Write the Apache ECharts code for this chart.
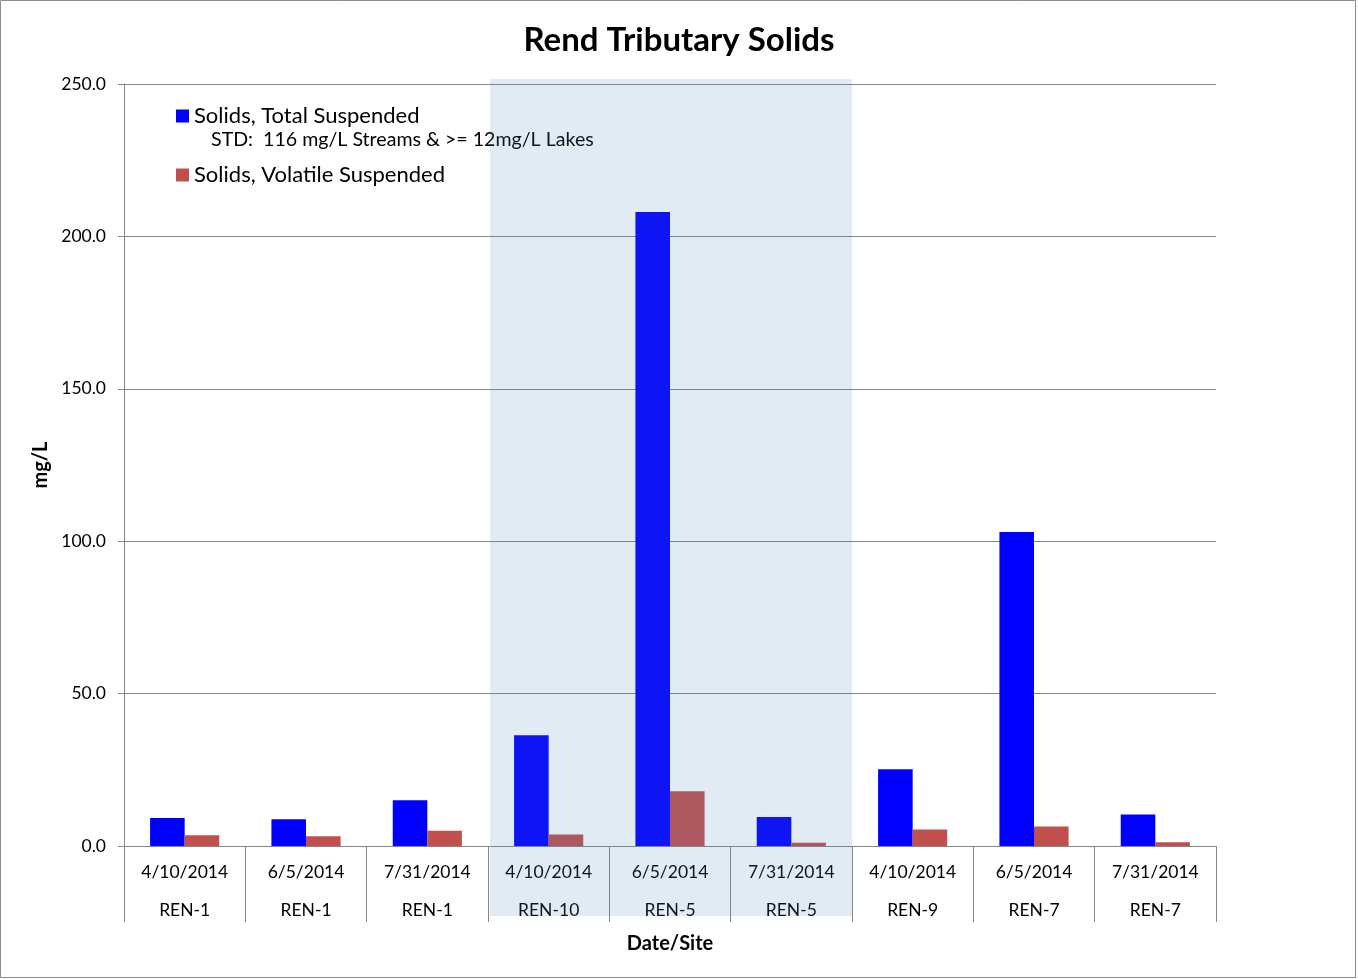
<!DOCTYPE html>
<html>
<head>
<meta charset="utf-8">
<script src="https://cdn.jsdelivr.net/npm/echarts@6/dist/echarts.min.js"></script>
<style>
html,body{margin:0;padding:0;background:#fff;}
#chart{width:1358px;height:979px;}
</style>
</head>
<body>
<div id="chart"></div>
<script>
const dates = ['4/10/2014','6/5/2014','7/31/2014','4/10/2014','6/5/2014','7/31/2014','4/10/2014','6/5/2014','7/31/2014'];
const sites = ['REN-1','REN-1','REN-1','REN-10','REN-5','REN-5','REN-9','REN-7','REN-7'];
const totalSuspended = [9.2, 8.8, 15.0, 36.3, 208.0, 9.5, 25.2, 103.0, 10.3];
const volatileSuspended = [3.5, 3.2, 5.0, 3.8, 18.0, 1.1, 5.4, 6.4, 1.2];
const yTicks = [0, 50, 100, 150, 200, 250];
const shadedFrom = 3, shadedTo = 5;

const categories = dates.map((d, i) => d + '\n' + sites[i]);
const FONT = 'Lato';

const chart = echarts.init(document.getElementById('chart'), null, {renderer: 'canvas'});
const option = {
  backgroundColor: '#fff',
  animation: false,
  textStyle: {fontFamily: FONT},
  title: [
    {text: 'Rend Tributary Solids', left: 'center', top: 19,
     textStyle: {fontFamily: FONT, fontSize: 33, fontWeight: 'bold', color: '#000'}},
    {text: 'STD:  116 mg/L Streams & >= 12mg/L Lakes', left: 206, top: 125,
     textStyle: {fontFamily: FONT, fontSize: 19.6, fontWeight: 'normal', color: '#000'}}
  ],
  legend: {
    orient: 'vertical', left: 171, top: 99, itemWidth: 13, itemHeight: 13,
    itemGap: 35, icon: 'rect',
    textStyle: {fontFamily: FONT, fontSize: 22, color: '#000', lineHeight: 24},
    data: ['Solids, Total Suspended', 'Solids, Volatile Suspended']
  },
  grid: {left: 124, right: 142, top: 84, bottom: 133, containLabel: false},
  xAxis: {
    type: 'category', data: categories,
    name: 'Date/Site', nameLocation: 'middle', nameGap: 85,
    nameTextStyle: {fontFamily: FONT, fontSize: 20, fontWeight: 'bold', color: '#000'},
    axisLine: {lineStyle: {color: '#868686', width: 1}},
    axisTick: {show: true, length: 76, interval: 0, alignWithLabel: false, lineStyle: {color: '#868686'}},
    axisLabel: {interval: 0, fontFamily: FONT, fontSize: 17.5, color: '#000', lineHeight: 38, margin: 7},
    splitLine: {show: false}
  },
  yAxis: {
    type: 'value', min: 0, max: 250, interval: 50,
    name: 'mg/L', nameLocation: 'middle', nameGap: 72, nameRotate: 90,
    nameTextStyle: {fontFamily: FONT, fontSize: 20, fontWeight: 'bold', color: '#000'},
    axisLine: {show: true, lineStyle: {color: '#868686', width: 1}},
    axisTick: {show: true, length: 6, lineStyle: {color: '#868686'}},
    axisLabel: {fontFamily: FONT, fontSize: 17.5, color: '#000', margin: 18,
      formatter: v => yTicks.includes(v) ? v.toFixed(1) : ''},
    splitLine: {show: true, lineStyle: {color: '#868686', width: 1}}
  },
  series: [
    {name: 'Solids, Total Suspended', type: 'bar', data: totalSuspended,
     itemStyle: {color: '#0000FF'}, barGap: '0%', barCategoryGap: '43%'},
    {name: 'Solids, Volatile Suspended', type: 'bar', data: volatileSuspended,
     itemStyle: {color: '#C0504D'}, barGap: '0%', barCategoryGap: '43%'}
  ]
};
chart.setOption(option);

// shaded band computed from the axis scales
const c0 = chart.convertToPixel({xAxisIndex: 0}, shadedFrom);
const c1 = chart.convertToPixel({xAxisIndex: 0}, shadedFrom + 1);
const c2 = chart.convertToPixel({xAxisIndex: 0}, shadedTo);
const bw = c1 - c0;
const yTop = chart.convertToPixel({yAxisIndex: 0}, yTicks[yTicks.length - 1]);
const yBot = chart.convertToPixel({yAxisIndex: 0}, yTicks[0]);
chart.setOption({
  graphic: [
    {type: 'rect', z: 100, silent: true,
     shape: {x: c0 - bw / 2 + 2, y: yTop - 5, width: (c2 + bw / 2) - (c0 - bw / 2) - 2, height: (yBot + 70) - (yTop - 5)},
     style: {fill: 'rgba(79,129,189,0.165)'}},
    {type: 'rect', z: 100, silent: true,
     shape: {x: 0.5, y: 0.5, width: 1355, height: 977},
     style: {fill: 'none', stroke: '#8c8c8c', lineWidth: 1}}
  ]
});
</script>
</body>
</html>
